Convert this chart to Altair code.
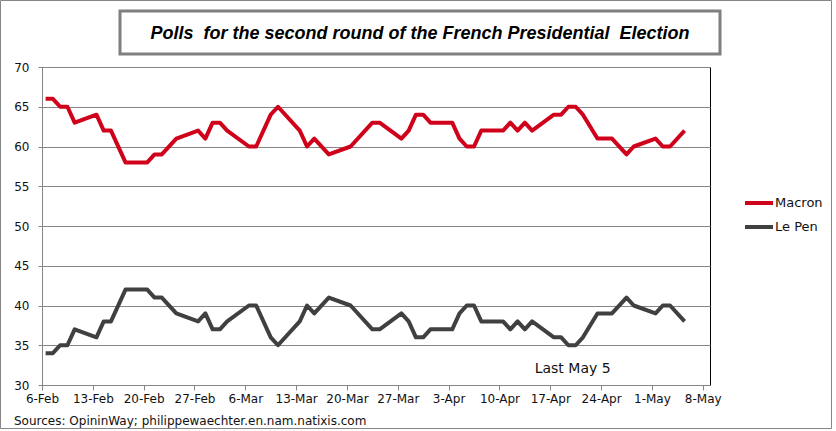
import altair as alt
import pandas as pd

# ---- data ----
dates = [
    "2017-02-06", "2017-02-07", "2017-02-08", "2017-02-09", "2017-02-10",
    "2017-02-13", "2017-02-14", "2017-02-15", "2017-02-17", "2017-02-20",
    "2017-02-21", "2017-02-22", "2017-02-24", "2017-02-27", "2017-02-28",
    "2017-03-01", "2017-03-02", "2017-03-03", "2017-03-06", "2017-03-07",
    "2017-03-09", "2017-03-10", "2017-03-13", "2017-03-14", "2017-03-15",
    "2017-03-17", "2017-03-20", "2017-03-23", "2017-03-24", "2017-03-27",
    "2017-03-28", "2017-03-29", "2017-03-30", "2017-03-31", "2017-04-03",
    "2017-04-04", "2017-04-05", "2017-04-06", "2017-04-07", "2017-04-10",
    "2017-04-11", "2017-04-12", "2017-04-13", "2017-04-14", "2017-04-17",
    "2017-04-18", "2017-04-19", "2017-04-20", "2017-04-21", "2017-04-23",
    "2017-04-25", "2017-04-27", "2017-04-28", "2017-05-01", "2017-05-02",
    "2017-05-03", "2017-05-05",
]
macron = [
    66, 66, 65, 65, 63,
    64, 62, 62, 58, 58,
    59, 59, 61, 62, 61,
    63, 63, 62, 60, 60,
    64, 65, 62, 60, 61,
    59, 60, 63, 63, 61,
    62, 64, 64, 63, 63,
    61, 60, 60, 62, 62,
    63, 62, 63, 62, 64,
    64, 65, 65, 64, 61,
    61, 59, 60, 61, 60,
    60, 62,
]
le_pen = [
    34, 34, 35, 35, 37,
    36, 38, 38, 42, 42,
    41, 41, 39, 38, 39,
    37, 37, 38, 40, 40,
    36, 35, 38, 40, 39,
    41, 40, 37, 37, 39,
    38, 36, 36, 37, 37,
    39, 40, 40, 38, 38,
    37, 38, 37, 38, 36,
    36, 35, 35, 36, 39,
    39, 41, 40, 39, 40,
    40, 38,
]
series = ["Macron", "Le Pen"]
colors = ["#D0021B", "#404040"]
tick_dates = [(2, 6), (2, 13), (2, 20), (2, 27), (3, 6), (3, 13), (3, 20),
              (3, 27), (4, 3), (4, 10), (4, 17), (4, 24), (5, 1), (5, 8)]
y_ticks = [30, 35, 40, 45, 50, 55, 60, 65, 70]

title_text = "Polls\u00a0 for the second round of the French Presidential\u00a0 Election"
source_text = "Sources: OpininWay; philippewaechter.en.nam.natixis.com"
note_text = "Last May 5"

# ---- tables ----
rows = []
for d, m, l in zip(dates, macron, le_pen):
    rows.append({"date": d + "T12:00:00", "candidate": "Macron", "value": m})
    rows.append({"date": d + "T12:00:00", "candidate": "Le Pen", "value": l})
df = pd.DataFrame(rows)

x_scale = alt.Scale(domain=[alt.DateTime(year=2017, month=2, date=6),
                            alt.DateTime(year=2017, month=5, date=9)])
y_scale = alt.Scale(domain=[30, 70], nice=False)

x_axis = alt.Axis(values=[alt.DateTime(year=2017, month=m, date=d) for m, d in tick_dates],
                  format="%-d-%b", title=None, grid=False, tickSize=5,
                  tickColor="#868686", domainColor="#868686", labelFontSize=12,
                  labelColor="#111111", labelPadding=3, labelOverlap=False,
                  labelFlush=False)
y_axis = alt.Axis(values=y_ticks, title=None, grid=True, gridColor="#868686",
                  tickSize=4, tickColor="#868686", domainColor="#868686",
                  labelFontSize=12, labelColor="#111111", labelPadding=9,
                  labelOverlap=False, labelFlush=False)

lines = alt.Chart(df).mark_line(strokeWidth=4, strokeJoin="round", strokeCap="butt").encode(
    x=alt.X("date:T", scale=x_scale, axis=x_axis),
    y=alt.Y("value:Q", scale=y_scale, axis=y_axis),
    color=alt.Color("candidate:N", scale=alt.Scale(domain=series, range=colors),
                    legend=alt.Legend(title=None, orient="none", legendX=705, legendY=124,
                                      symbolType="M-1.4,0H1.4", symbolSize=400,
                                      symbolStrokeWidth=4, labelFontSize=13,
                                      labelColor="#111111", labelOffset=4, padding=0,
                                      rowPadding=4)),
)

note = alt.Chart(pd.DataFrame({"date": ["2017-04-20T02:00:00"], "value": [32], "t": [note_text]})).mark_text(
    fontSize=14, color="#111111", align="center", baseline="middle"
).encode(x=alt.X("date:T", scale=x_scale, axis=x_axis),
         y=alt.Y("value:Q", scale=y_scale, axis=y_axis), text="t:N")

one = pd.DataFrame({"t": [title_text], "s": [source_text]})

outer = alt.Chart(one).mark_rect(fillOpacity=0, stroke="#868686", strokeWidth=1).encode(
    x=alt.value(-41.5), x2=alt.value(789.5), y=alt.value(-66.5), y2=alt.value(361.5))

title_box = alt.Chart(one).mark_rect(fill="white", stroke="#7f7f7f", strokeWidth=3).encode(
    x=alt.value(78), x2=alt.value(678), y=alt.value(-56), y2=alt.value(-13))

title = alt.Chart(one).mark_text(
    font="Liberation Sans", fontSize=18, fontStyle="italic", fontWeight="bold",
    align="center", baseline="middle", color="#000000"
).encode(x=alt.value(378), y=alt.value(-33), text="t:N")

source = alt.Chart(one).mark_text(fontSize=12, align="left", baseline="middle", color="#111111").encode(
    x=alt.value(-28), y=alt.value(354), text="s:N")

chart = alt.layer(outer, title_box, title, source, lines, note).properties(
    width=668, height=318,
    autosize=alt.AutoSizeParams(type="none"),
    padding={"left": 42, "top": 67, "right": 126, "bottom": 46},
).configure(font="DejaVu Sans", background="white").configure_view(stroke="black", strokeWidth=1)

chart.save("out.html", embed_options={"renderer": "svg", "actions": False})
